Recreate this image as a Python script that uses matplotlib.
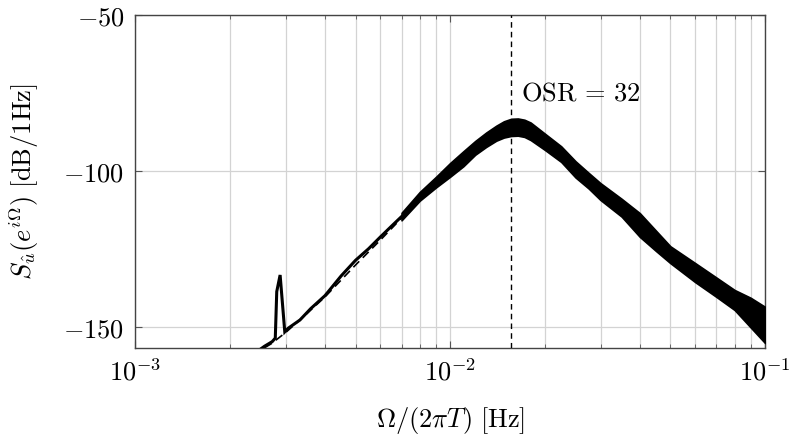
import matplotlib
matplotlib.use("Agg")
import matplotlib.pyplot as plt
import numpy as np

plt.rcParams['mathtext.fontset'] = 'cm'
plt.rcParams['font.family'] = ['DejaVu Serif']

# ---- data ----
# thin low-frequency part of the measured PSD (incl. spurious tone)
f_low = [0.00230, 0.00245, 0.00257, 0.00267, 0.00272, 0.00278, 0.00281, 0.00288,
         0.00298, 0.00305, 0.00333, 0.00360, 0.00400, 0.00450, 0.00500, 0.00550,
         0.00600, 0.00650, 0.00700]
s_low = [-159.5, -157.5, -156.0, -155.0, -154.5, -153.4, -138.5, -133.2,
         -151.4, -150.3, -147.6, -144.0, -139.8, -133.5, -128.5, -124.8,
         -121.0, -117.6, -114.5]

# noisy band (upper / lower envelope) for higher frequencies
f_band = [0.0070, 0.0080, 0.0090, 0.0100, 0.0110, 0.0120, 0.0130, 0.0140, 0.0148,
          0.0156, 0.0164, 0.0172, 0.0180, 0.0200, 0.0225, 0.0250, 0.0275, 0.0300,
          0.0350, 0.0400, 0.0450, 0.0500, 0.0600, 0.0700, 0.0800, 0.0900, 0.1000]
s_upper = [-113.3, -106.6, -101.8, -97.3, -93.6, -90.3, -87.6, -85.4, -84.0,
           -83.2, -83.1, -83.5, -84.4, -88.0, -92.0, -96.8, -100.5, -103.8,
           -108.8, -113.4, -119.0, -124.0, -129.4, -134.0, -138.0, -140.5, -143.4]
s_lower = [-115.7, -109.4, -105.2, -101.7, -98.4, -94.7, -92.2, -90.2, -89.2,
           -88.7, -88.6, -89.0, -90.0, -93.2, -97.0, -102.0, -105.5, -109.2,
           -114.5, -121.0, -125.5, -129.4, -135.5, -140.2, -144.4, -150.0, -155.0]

# theoretical (dashed) PSD
f_theory = [0.0022, 0.0024, 0.0027, 0.0030, 0.0035, 0.0040, 0.0050, 0.0060, 0.0070,
            0.0080, 0.0100, 0.0125, 0.0156, 0.0200, 0.0300, 0.0500, 0.1000]
s_theory = [-161.5, -158.3, -155.2, -151.6, -145.6, -140.2, -130.0, -122.0, -115.0,
            -108.6, -99.6, -91.0, -86.0, -90.0, -106.5, -127.0, -149.0]

osr = 32
f_osr = 1.0 / (2 * osr)

xtick_vals = [1e-3, 1e-2, 1e-1]
xtick_labels = [r'$10^{-3}$', r'$10^{-2}$', r'$10^{-1}$']
ytick_vals = [-150, -100, -50]
ytick_labels = [r'$-150$', r'$-100$', r'$-50$']

# ---- figure ----
fig = plt.figure(figsize=(7.97, 4.44), dpi=100)
ax = fig.add_axes([0.170, 0.216, 0.790, 0.750])

ax.set_xscale('log')
ax.set_xlim(1e-3, 1e-1)
ax.set_ylim(-156.6, -50)

ax.grid(True, which='major', color='#d3d3d3', lw=0.9, zorder=0)
ax.grid(True, which='minor', axis='x', color='#d3d3d3', lw=0.9, zorder=0)
ax.set_axisbelow(True)

ax.plot(f_theory, s_theory, color='black', lw=1.2, dashes=(5, 3), zorder=2)
ax.plot(f_low, s_low, color='black', lw=2.2, zorder=3, solid_joinstyle='miter')
ax.fill_between(f_band, s_lower, s_upper, color='black', lw=1.2,
                edgecolor='black', zorder=3)
ax.plot([f_low[-1], f_band[0]], [s_low[-1], (s_upper[0] + s_lower[0]) / 2],
        color='black', lw=2.2, zorder=3)

ax.axvline(f_osr, color='black', lw=1.0, dashes=(4, 3), zorder=4)
ax.text(0.0168, -75, r'$\mathrm{OSR}\,=\,32$', fontsize=19, ha='left', va='center')

ax.set_xticks(xtick_vals)
ax.set_xticklabels(xtick_labels)
ax.set_yticks(ytick_vals)
ax.set_yticklabels(ytick_labels)
ax.tick_params(which='both', direction='in', top=True, right=True,
               labelsize=19, color='#555555', pad=8)
ax.tick_params(which='major', length=5)
ax.tick_params(which='minor', length=3)
ax.yaxis.set_minor_locator(matplotlib.ticker.NullLocator())

for sp in ax.spines.values():
    sp.set_color('#444444')
    sp.set_linewidth(1.0)

ax.set_xlabel(r'$\Omega/(2\pi T)\ [\mathrm{Hz}]$', fontsize=19, labelpad=14)
ax.set_ylabel(r'$S_{\hat{u}}(e^{i\Omega})\ [\mathrm{dB}/1\mathrm{Hz}]$', fontsize=19, labelpad=16)

fig.savefig('out.png', dpi=100)
